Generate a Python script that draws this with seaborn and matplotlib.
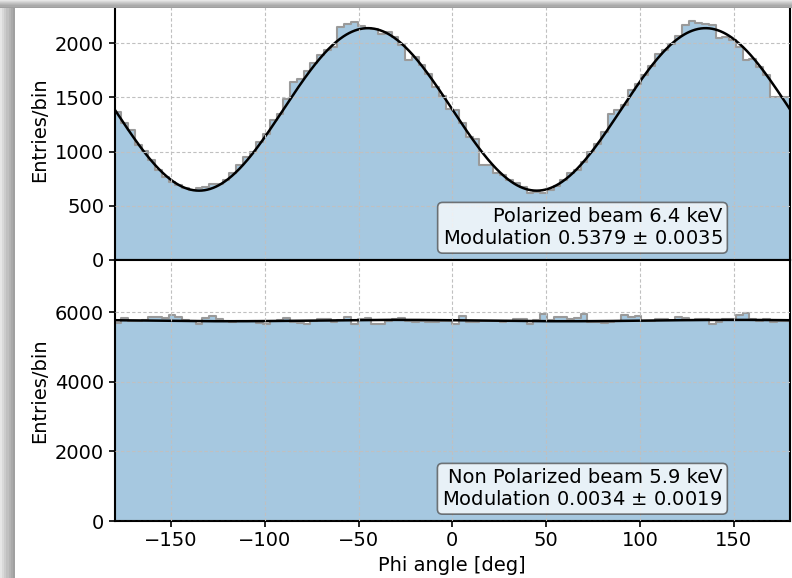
import numpy as np
import pandas as pd
import matplotlib
matplotlib.use("Agg")
import matplotlib.pyplot as plt
from matplotlib.patches import Rectangle
import seaborn as sns

sns.set_style("white")
plt.rcParams['font.family'] = ['DejaVu Sans']
plt.rcParams.update({"text.color": "black", "axes.labelcolor": "black",
                     "xtick.color": "black", "ytick.color": "black"})

# ---- data ----
n_bins = 100
phi_range = (-180, 180)
bin_edges = np.linspace(phi_range[0], phi_range[1], n_bins + 1)
bin_centers = (bin_edges[:-1] + bin_edges[1:]) / 2

pol_counts = [1367, 1265, 1198, 1060, 1008, 922, 829, 768, 722, 691,
              660, 646, 660, 675, 697, 706, 737, 800, 876, 952,
              1000, 1090, 1167, 1290, 1352, 1490, 1643, 1674, 1740, 1820,
              1890, 1940, 1970, 2155, 2175, 2197, 2160, 2145, 2135, 2083,
              2104, 2058, 1981, 1843, 1874, 1797, 1720, 1600, 1511, 1398,
              1382, 1260, 1137, 1121, 880, 875, 800, 783, 737, 707,
              676, 614, 630, 620, 645, 685, 737, 799, 829, 906,
              998, 1075, 1183, 1352, 1382, 1430, 1567, 1628, 1705, 1788,
              1905, 1942, 1997, 2064, 2166, 2206, 2187, 2175, 2166, 2052,
              2058, 2028, 1966, 1849, 1859, 1782, 1705, 1500, 1500, 1500]

unpol_counts = [5700, 5830, 5750, 5750, 5770, 5850, 5850, 5830, 5920, 5870,
                5770, 5750, 5670, 5830, 5900, 5800, 5750, 5730, 5750, 5750,
                5750, 5690, 5670, 5750, 5770, 5830, 5730, 5690, 5660, 5750,
                5790, 5790, 5710, 5770, 5850, 5670, 5810, 5830, 5660, 5670,
                5750, 5790, 5830, 5750, 5710, 5750, 5730, 5710, 5750, 5750,
                5660, 5890, 5730, 5730, 5750, 5750, 5750, 5730, 5750, 5790,
                5790, 5670, 5770, 5940, 5770, 5850, 5850, 5790, 5830, 5960,
                5730, 5710, 5690, 5710, 5750, 5910, 5870, 5890, 5750, 5750,
                5810, 5790, 5770, 5850, 5830, 5770, 5810, 5790, 5670, 5730,
                5810, 5810, 5910, 5980, 5810, 5750, 5810, 5710, 5750, 5750]

# fit parameters: f = A + B cos^2(phi - phi0)
pol_fit = dict(A=640.0, B=1500.0, phi0=-45.0)
unpol_fit = dict(A=5740.0, B=39.0, phi0=150.0)

labels = ["Polarized beam 6.4 keV\nModulation 0.5379 $\\pm$ 0.0035",
          "Non Polarized beam 5.9 keV\nModulation 0.0034 $\\pm$ 0.0019"]

fill_color = "#a6c8e0"
edge_color = "#9a9a9a"
FS = 14

fig = plt.figure(figsize=(7.92, 5.78), dpi=100)
ax1 = fig.add_axes([0.1447, 0.5502, 0.8528, 0.4498])
ax2 = fig.add_axes([0.1447, 0.0986, 0.8528, 0.4516], sharex=ax1)

phi = np.linspace(-180, 180, 721)
for ax, counts, fit, lab, ylim, yt in [
        (ax1, pol_counts, pol_fit, labels[0], 2400, [0, 500, 1000, 1500, 2000]),
        (ax2, unpol_counts, unpol_fit, labels[1], 7500, [0, 2000, 4000, 6000])]:
    df = pd.DataFrame({"phi": bin_centers, "n": counts})
    sns.histplot(data=df, x="phi", weights="n", bins=n_bins, binrange=phi_range,
                 element="step", fill=True, color=fill_color, alpha=1.0,
                 edgecolor=edge_color, linewidth=1.5, ax=ax)
    fdf = pd.DataFrame({"phi": phi,
                        "f": fit["A"] + fit["B"] * np.cos(np.radians(phi - fit["phi0"])) ** 2})
    sns.lineplot(data=fdf, x="phi", y="f", color="black", linewidth=1.8, ax=ax)
    ax.set_xlim(-180, 180)
    ax.set_ylim(0, ylim)
    ax.set_yticks(yt)
    ax.set_axisbelow(False)
    ax.grid(True, linestyle=(0, (3, 2)), color="#c0c0c0", linewidth=0.8)
    ax.set_ylabel("Entries/bin", fontsize=FS)
    ax.set_xlabel("")
    ax.tick_params(axis="both", labelsize=FS, direction="out", length=4, width=1.2,
                   left=True, bottom=True)
    for s in ax.spines.values():
        s.set_linewidth(1.5)
        s.set_color("black")
    ax.text(0.9, 0.045, lab, transform=ax.transAxes, ha="right", va="bottom",
            fontsize=FS, multialignment="right",
            bbox=dict(boxstyle="round,pad=0.25", fc="white", ec="0.3", alpha=0.75, lw=1.2),
            zorder=20)

ax1.tick_params(axis="x", labelbottom=False, bottom=False)
ax2.set_xticks([-150, -100, -50, 0, 50, 100, 150])
ax2.set_xlabel("Phi angle [deg]", fontsize=FS)
ax1.yaxis.set_label_coords(-0.097, 0.5)
ax2.yaxis.set_label_coords(-0.097, 0.5)

# screenshot-like gray shadow along left and top edges
W, H = 792, 578
shades = ["#e6e6e6", "#d9d9d9", "#cccccc", "#c0c0c0", "#b5b5b5", "#aaaaaa", "#a0a0a0"]
lw_px = 15 / len(shades)
for i, c in enumerate(shades):
    fig.add_artist(Rectangle((i * lw_px / W, 0), lw_px / W + 0.0005, 1, transform=fig.transFigure,
                             fc=c, ec="none", zorder=50))
th_px = 8 / len(shades)
for i, c in enumerate(shades):
    fig.add_artist(Rectangle((0, 1 - (i + 1) * th_px / H), 1, th_px / H + 0.0005, transform=fig.transFigure,
                             fc=c, ec="none", zorder=50))

fig.savefig("out.png", dpi=100)
